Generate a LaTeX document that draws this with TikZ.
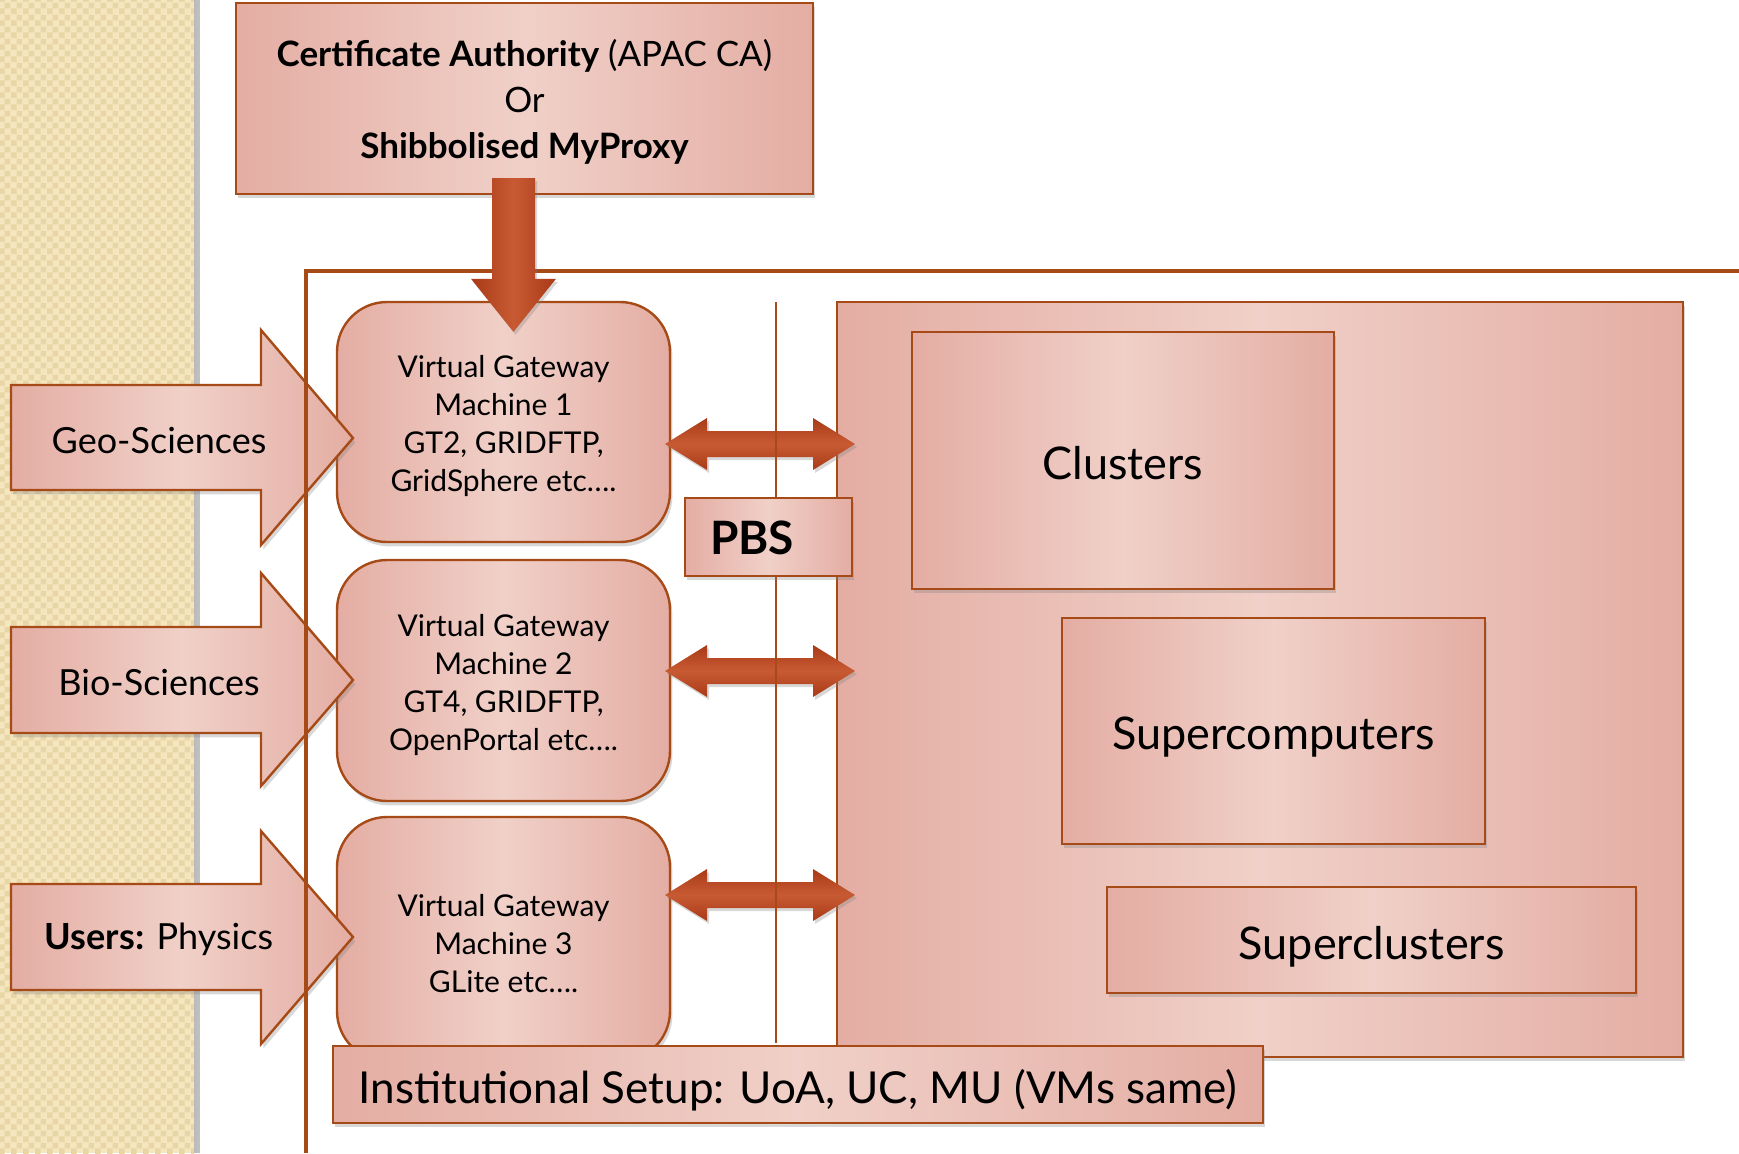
\documentclass[tikz,border=0pt]{standalone}
\usepackage{fontspec}
\setmainfont{Lato}
\usetikzlibrary{calc,shadows,patterns.meta}
\definecolor{brownln}{HTML}{A64B17}
\definecolor{pinkD}{HTML}{E4ADA3}
\definecolor{pinkL}{HTML}{F0D0C8}
\definecolor{arrD}{HTML}{A83A18}
\definecolor{arrL}{HTML}{C85A33}
\definecolor{beige}{HTML}{F5E6BF}
\definecolor{beigeD}{HTML}{E9D6A6}
\tikzdeclarepattern{name=beigechk,type=uncolored,bounding box={(0pt,0pt) and (6pt,6pt)},tile size={(6pt,6pt)},
  code={\fill (0pt,0pt) rectangle (3pt,3pt); \fill (3pt,3pt) rectangle (6pt,6pt);}}
\tikzset{
  sz/.style 2 args={minimum width=#1*0.5pt,minimum height=#2*0.5pt},
  pshade/.style={left color=pinkD,right color=pinkD,middle color=pinkL},
  box/.style={draw=brownln,line width=1.2pt,pshade,inner sep=0pt,
     drop shadow={shadow xshift=1.2pt,shadow yshift=-2.2pt,opacity=0.3}},
  rbox/.style={box,rounded corners=25pt},
  frameln/.style={draw=brownln,line width=2pt},
  thinln/.style={draw=brownln,line width=0.8pt},
  arrowv/.style={left color=arrD,right color=arrD,middle color=arrL,
     drop shadow={shadow xshift=1pt,shadow yshift=-1.5pt,opacity=0.3}},
  arrowh/.style={top color=arrD,bottom color=arrD,middle color=arrL,
     drop shadow={shadow xshift=1pt,shadow yshift=-1.5pt,opacity=0.3}},
  blockarr/.style={draw=brownln,line width=1.2pt,pshade,
     drop shadow={shadow xshift=1.2pt,shadow yshift=-2.2pt,opacity=0.3}},
  vgmtext/.style={font=\fontsize{15}{19}\selectfont,align=center,yshift=-2.2pt},
  bigtext/.style={font=\fontsize{22.5}{27}\selectfont},
  lbltext/.style={font=\fontsize{18}{22}\selectfont},
}
\newcommand\dblarr[2]{\path[arrowh] (#1) -- ($(#1)+(42,-26)$) -- ($(#1)+(42,-13)$) -- ($(#2)+(-42,-13)$) -- ($(#2)+(-42,-26)$) -- (#2) -- ($(#2)+(-42,26)$) -- ($(#2)+(-42,13)$) -- ($(#1)+(42,13)$) -- ($(#1)+(42,26)$) -- cycle;}
\begin{document}
\begin{tikzpicture}[x=0.5pt,y=-0.5pt]
\useasboundingbox (0,0) rectangle (1739,1153);
\fill[white] (0,0) rectangle (1739,1153);
% beige strip
\fill[beige] (0,0) rectangle (194,1153);
\fill[pattern=beigechk,pattern color=beigeD] (0,0) rectangle (194,1153);
\fill[left color=black!6,right color=white,opacity=0.4] (194,0) rectangle (200,1153);
% big right box and inner boxes
\node[box,sz={846}{755}] (big) at (1260,679.5) {};
\node[box,sz={422}{257},label={[bigtext,yshift=-1.1pt]center:Clusters}] (clusters) at (1123,460.5) {};
\node[box,sz={423}{226},label={[bigtext,yshift=-2.8pt]center:Supercomputers}] (supercomp) at (1273.5,731) {};
\node[box,sz={529}{106},label={[bigtext,yshift=-3.3pt]center:Superclusters}] (superclus) at (1371.5,940) {};
% virtual gateway machines
\node[rbox,sz={333}{240},label={[vgmtext]center:{Virtual Gateway\\Machine 1\\GT2, GRIDFTP,\\GridSphere etc\dots.}}] (vgm1) at (503.5,422) {};
\node[rbox,sz={333}{241},label={[vgmtext]center:{Virtual Gateway\\Machine 2\\GT4, GRIDFTP,\\OpenPortal etc\dots.}}] (vgm2) at (503.5,680.5) {};
\node[rbox,sz={333}{244},label={[vgmtext]center:{Virtual Gateway\\Machine 3\\GLite etc\dots.}}] (vgm3) at (503.5,939) {};
% left block arrows
\path[blockarr] (11,385) -- (261,385) -- (261,330) -- (353,438) -- (261,545) -- (261,490) -- (11,490) -- cycle;
\node[lbltext] (geo) at (159,440) {Geo-Sciences};
\path[blockarr] (11,627) -- (261,627) -- (261,573) -- (353,680) -- (261,786) -- (261,733) -- (11,733) -- cycle;
\node[lbltext] (bio) at (159,682) {Bio-Sciences};
\path[blockarr] (11,884) -- (261,884) -- (261,831) -- (353,937) -- (261,1044) -- (261,990) -- (11,990) -- cycle;
\node[lbltext] (users) at (159,939) {\textbf{Users:} Physics};
% frame lines
\draw[frameln] (1739,271) -- (306,271) -- (306,1153);
% certificate authority
\node[box,sz={577}{191},label={[font=\fontsize{17.5}{23}\selectfont,align=center,yshift=-1.7pt]center:{\textbf{Certificate Authority} (APAC CA)\\Or\\\textbf{Shibbolised MyProxy}}}] (ca) at (524.5,98.5) {};
% down arrow
\coordinate (dt) at ($(ca.south)+(-11,-17)$);
\coordinate (db) at ($(vgm1.north)+(10,31)$);
\path[arrowv] ($(dt)+(-21.5,0)$) -- ($(dt)+(21.5,0)$) -- ($(dt|-db)+(21.5,-53)$) -- ($(dt|-db)+(42.5,-53)$)
  -- (dt|-db) -- ($(dt|-db)+(-42.5,-53)$) -- ($(dt|-db)+(-21.5,-53)$) -- cycle;
% double arrows
\coordinate (a1l) at (665,444); \coordinate (a1r) at (855,444);
\coordinate (a2l) at (665,671); \coordinate (a2r) at (855,671);
\coordinate (a3l) at (665,895); \coordinate (a3r) at (855,895);
\dblarr{a1l}{a1r}
\dblarr{a2l}{a2r}
\dblarr{a3l}{a3r}
% thin line
\draw[thinln] (776,302) -- (776,1043);
% PBS
\node[box,sz={167}{78}] (pbs) at (768.5,537) {};
\node[font=\fontsize{23}{27}\selectfont\bfseries] (pbstxt) at (752,538) {PBS};
% institutional setup
\node[box,sz={930}{77},label={[font=\fontsize{22}{26}\selectfont,yshift=-2.8pt]center:{Institutional Setup: UoA, UC, MU (VMs same)}}] (inst) at (798,1084.5) {};
\end{tikzpicture}
\end{document}
